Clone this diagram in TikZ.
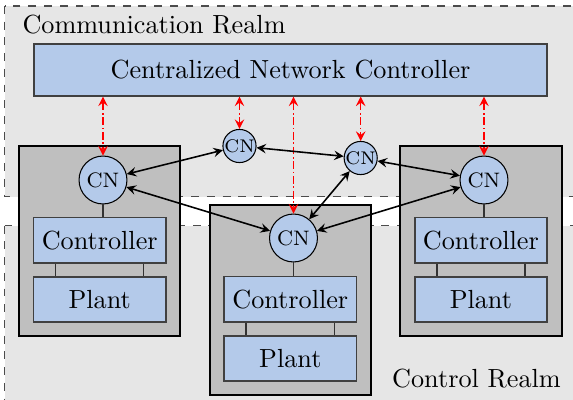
\documentclass[tikz,border=0pt]{standalone}
\usepackage{xcolor}
\definecolor{nodeblue}{RGB}{180,202,234}
\definecolor{realmgray}{RGB}{230,230,230}
\definecolor{stationgray}{RGB}{191,191,191}
\usepackage{tikz}
\usetikzlibrary{calc}
\newcommand{\widthunit}{50.4pt}
\newcommand{\heightunit}{17.2pt}
\newcommand{\widthstation}{61.5pt}
\newcommand{\heightstation}{72.6pt}
\newcommand{\linkoff}{16.8pt}
\tikzset{
    realm/.style={draw=black!70, dashed, fill=realmgray},
    station/.style={draw, thick, fill=stationgray, minimum width=\widthstation, minimum height=\heightstation},
    unit/.style={draw=black!75, semithick, fill=nodeblue, minimum width=\widthunit, minimum height=\heightunit, inner sep=0pt},
    netctrl/.style={unit, minimum width=196pt, minimum height=19.7pt},
    cn/.style={draw, circle, fill=nodeblue, inner sep=0pt, minimum size=18.3pt, font=\footnotesize},
    smallcn/.style={cn, minimum size=11.5pt, font=\scriptsize},
    wire/.style={draw=black!80, semithick},
    link/.style={<->, >=stealth, semithick},
    ctrllink/.style={<->, >=stealth, semithick, red, densely dash dot}
}
\begin{document}
\begin{tikzpicture}[x=0.3817pt, y=-0.3817pt]
    \useasboundingbox (0,0) rectangle (573,400);
    \clip (0,0) rectangle (573,400);

    % realms
    \path[realm] (4.7,6) rectangle (600,196.7);
    \path[realm] (4.7,225.7) rectangle (600,420);
    \node[anchor=base west, inner sep=0pt] (commtxt) at (22,33) {Communication Realm};
    \node[anchor=base west, inner sep=0pt] (ctrltxt) at (391.7,387.7) {Control Realm};

    % stations
    \node[station] (stL) at (99.8,240.9) {};
    \node[station] (stM) at (290.3,299.7) {};
    \node[station] (stR) at (481,240.9) {};

    \node[netctrl] (cnc) at (290.5,70) {Centralized Network Controller};

    \node[unit] (ctrlL) at (99.7,240.2) {Controller};
    \node[unit] (plantL) at (99.7,299.7) {Plant};
    \node[unit] (ctrlM) at (290.3,299.2) {Controller};
    \node[unit] (plantM) at (290.3,358.5) {Plant};
    \node[unit] (ctrlR) at (480.9,240.2) {Controller};
    \node[unit] (plantR) at (480.9,299.7) {Plant};

    \node[cn] (cnL) at (103,180) {CN};
    \node[cn] (cnM) at (293.5,238) {CN};
    \node[cn] (cnR) at (484,180) {CN};
    \node[smallcn] (scnA) at (239.5,146) {CN};
    \node[smallcn] (scnB) at (360.7,158) {CN};

    \draw[wire]
      (cnL.south) -- (cnL.south |- ctrlL.north)
      (cnM.south) -- (cnM.south |- ctrlM.north)
      (cnR.south) -- (cnR.south |- ctrlR.north)
      ([xshift=-\linkoff]ctrlL.south) -- ([xshift=-\linkoff]plantL.north)
      ([xshift=\linkoff]ctrlL.south) -- ([xshift=\linkoff]plantL.north)
      ([xshift=-\linkoff]ctrlM.south) -- ([xshift=-\linkoff]plantM.north)
      ([xshift=\linkoff]ctrlM.south) -- ([xshift=\linkoff]plantM.north)
      ([xshift=-\linkoff]ctrlR.south) -- ([xshift=-\linkoff]plantR.north)
      ([xshift=\linkoff]ctrlR.south) -- ([xshift=\linkoff]plantR.north);

    \draw[ctrllink] (cnc.south -| cnL) -- (cnL.north);
    \draw[ctrllink] (cnc.south -| scnA) -- (scnA.north);
    \draw[ctrllink] (cnc.south -| cnM) -- (cnM.north);
    \draw[ctrllink] (cnc.south -| scnB) -- (scnB.north);
    \draw[ctrllink] (cnc.south -| cnR) -- (cnR.north);

    \draw[link] (cnL) -- (scnA);
    \draw[link] (scnA) -- (scnB);
    \draw[link] (cnL) -- (cnM);
    \draw[link] (cnM) -- (scnB);
    \draw[link] (cnM) -- (cnR);
    \draw[link] (scnB) -- (cnR);
\end{tikzpicture}
\end{document}
